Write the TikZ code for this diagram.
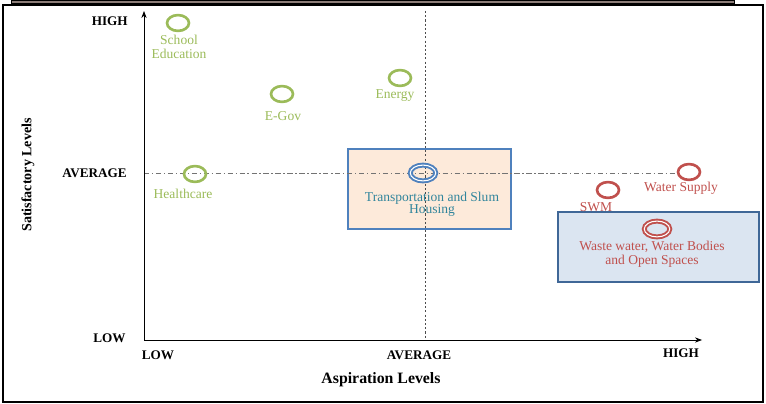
\documentclass[tikz,border=0pt]{standalone}
\usepackage{fontspec}
\setmainfont{Liberation Serif}
\usepackage{tikz}
\usetikzlibrary{arrows.meta,shapes.geometric}
\definecolor{SectorGreen}{HTML}{9BBB59}
\definecolor{SectorRed}{HTML}{C0504D}
\definecolor{SectorBlue}{HTML}{4F81BD}
\definecolor{SectorTeal}{HTML}{31859C}
\definecolor{BoxPeach}{HTML}{FDEADA}
\definecolor{BoxBlue}{HTML}{DBE5F1}
\definecolor{FrameGrey}{HTML}{8C7D78}

\begin{document}
\begin{tikzpicture}[x=0.02cm,y=-0.02cm,
    ring/.style={ellipse,draw=#1,line width=1.5pt,minimum width=12.5pt,minimum height=9pt,inner sep=0pt},
    dring/.style={ellipse,draw=#1,line width=1.1pt,double=white,double distance=0.6pt,minimum width=14.5pt,minimum height=9pt,inner sep=0pt},
    lbl/.style={text=#1,font=\fontsize{7.7}{7.6}\selectfont,align=center,inner sep=0pt},
    lvl/.style={font=\bfseries\fontsize{7.5}{9}\selectfont,inner sep=0pt},
    ttl/.style={font=\bfseries\fontsize{9}{11}\selectfont,inner sep=0pt}]
    \useasboundingbox (0,0) rectangle (766,404);
    \draw[fill=FrameGrey] (11,0) rectangle (734,3);
    \draw[line width=1.1pt] (3,5) rectangle (763,402);

    \draw[draw=SectorBlue,fill=BoxPeach,line width=1pt] (348,149) rectangle (511,229);
    \draw[draw=SectorBlue!80!black,fill=BoxBlue,line width=1pt] (558,212) rectangle (759,282);

    \coordinate (o) at (144,340);
    \coordinate (ytop) at (144,11);
    \coordinate (xend) at (702,340);
    \coordinate (mtop) at (425,11);
    \coordinate (mbot) at (425,340);
    \coordinate (hl) at (144,173);
    \coordinate (hr) at (676,173);
    \draw[black!70,line width=0.5pt,dash pattern=on 1.2pt off 1.2pt] (mtop) -- (mbot);
    \draw[black!55,line width=0.5pt,dash pattern=on 3pt off 1.5pt on 0.8pt off 1.5pt] (hl) -- (hr);
    \draw[line width=0.5pt,-{Stealth[length=4pt,width=3pt]}] (o) -- (ytop);
    \draw[line width=0.5pt,-{Stealth[length=4pt,width=3pt]}] (o) -- (xend);

    \foreach \x/\y/\name in {178/23/sch,282/94/egov,400/78/enr,195/174/hlt} {
     \node[ring=SectorGreen] (\name) at (\x,\y) {};
    }
    \foreach \x/\y/\name in {689/172/wsup,608/190/swm} {
     \node[ring=SectorRed] (\name) at (\x,\y) {};
    }
    \node[dring=SectorBlue] (trn) at (423,173) {};
    \node[dring=SectorRed] (wst) at (657,229) {};

    \node[lbl=SectorGreen] (schL) at (179,47) {School\\Education};
    \node[lbl=SectorGreen] (egovL) at (283,116) {E-Gov};
    \node[lbl=SectorGreen] (enrL) at (395,96) {Energy};
    \node[lbl=SectorGreen] (hltL) at (183,194) {Healthcare};
    \node[lbl=SectorTeal,font=\fontsize{7.7}{7}\selectfont] (trnL) at (432,204) {Transportation and Slum\\Housing};
    \node[lbl=SectorRed] (wsupL) at (681,188) {Water Supply};
    \node[lbl=SectorRed] (swmL) at (596,207) {SWM};
    \node[lbl=SectorRed,font=\fontsize{7.7}{8}\selectfont] (wstL) at (652,254) {Waste water, Water Bodies\\and Open Spaces};

    \node[lvl,anchor=east] (yhi) at (128,21) {HIGH};
    \node[lvl,anchor=east] (yav) at (127,173) {AVERAGE};
    \node[lvl,anchor=east] (ylo) at (126,338) {LOW};
    \node[lvl] (xlo) at (158,355) {LOW};
    \node[lvl] (xav) at (419,355) {AVERAGE};
    \node[lvl] (xhi) at (681,353) {HIGH};
    \node[ttl] (asp) at (381,380) {Aspiration Levels};
    \node[ttl,font=\bfseries\fontsize{8}{10}\selectfont,rotate=90] (sat) at (28,175) {Satisfactory Levels};
\end{tikzpicture}
\end{document}
